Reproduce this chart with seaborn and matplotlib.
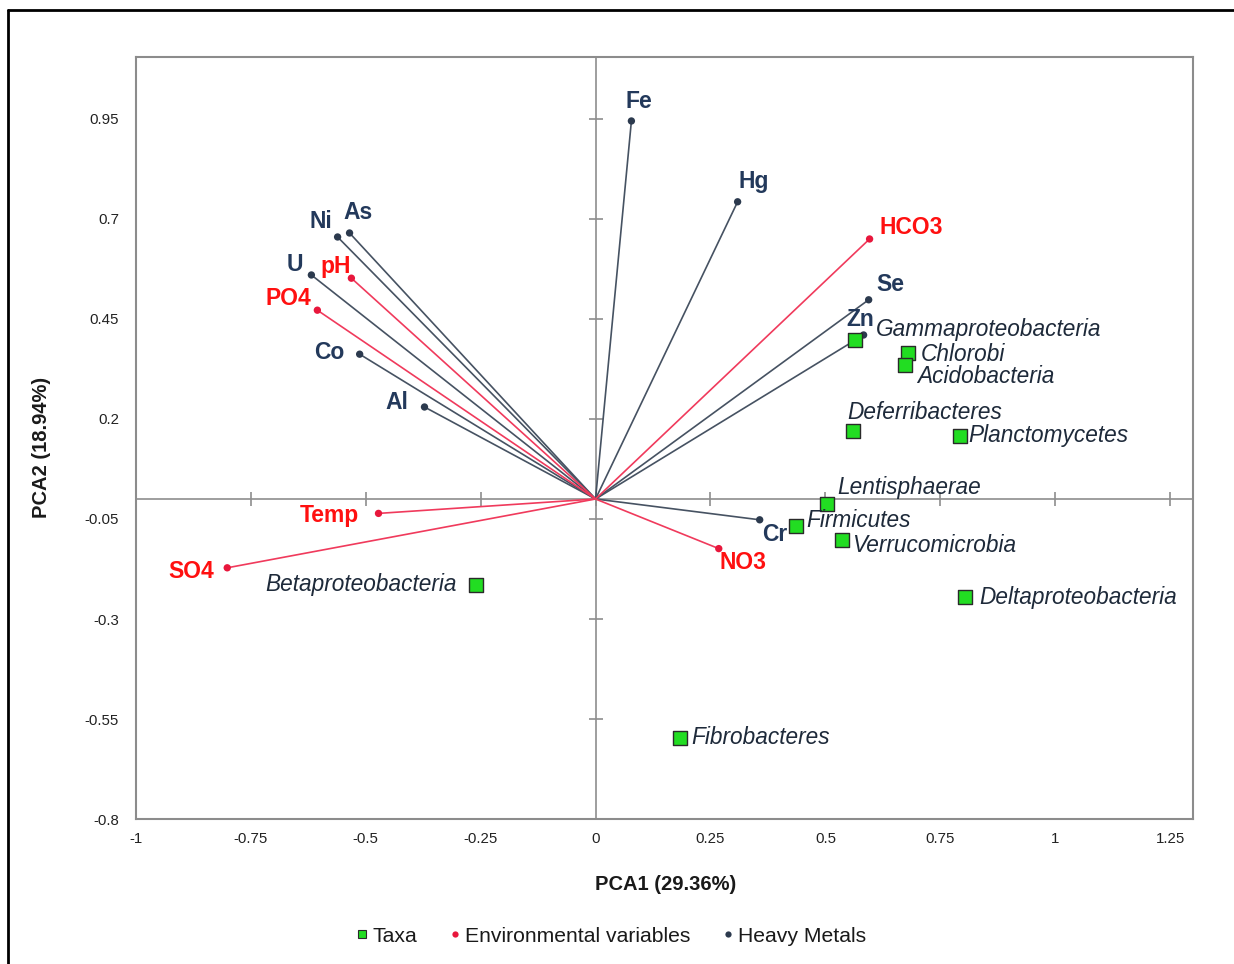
import matplotlib
matplotlib.use("Agg")
import matplotlib.pyplot as plt
import seaborn as sns
import pandas as pd
from matplotlib.lines import Line2D

# ---------------- data ----------------
taxa_names = ["Gammaproteobacteria", "Chlorobi", "Acidobacteria", "Deferribacteres",
              "Planctomycetes", "Lentisphaerae", "Firmicutes", "Verrucomicrobia",
              "Deltaproteobacteria", "Fibrobacteres", "Betaproteobacteria"]
taxa_x = [0.564, 0.679, 0.672, 0.561, 0.792, 0.503, 0.437, 0.535, 0.803, 0.183, -0.261]
taxa_y = [0.398, 0.365, 0.335, 0.170, 0.158, -0.012, -0.068, -0.102, -0.245, -0.598, -0.214]

env_names = ["HCO3", "pH", "PO4", "Temp", "SO4", "NO3"]
env_x = [0.596, -0.531, -0.605, -0.472, -0.801, 0.268]
env_y = [0.650, 0.552, 0.472, -0.036, -0.172, -0.124]

metal_names = ["Fe", "Hg", "Se", "Zn", "Cr", "Al", "Co", "U", "Ni", "As"]
metal_x = [0.078, 0.309, 0.594, 0.583, 0.357, -0.372, -0.513, -0.618, -0.561, -0.535]
metal_y = [0.945, 0.743, 0.498, 0.410, -0.052, 0.230, 0.362, 0.560, 0.655, 0.665]

x_ticks = [-1, -0.75, -0.5, -0.25, 0, 0.25, 0.5, 0.75, 1, 1.25]
y_ticks = [-0.8, -0.55, -0.3, -0.05, 0.2, 0.45, 0.7, 0.95]
x_label = "PCA1 (29.36%)"
y_label = "PCA2 (18.94%)"
legend_labels = ["Taxa", "Environmental variables", "Heavy Metals"]

# ---------------- layout (label offsets in pixels) ----------------
env_offsets = {"HCO3": (10, 11, "left"), "pH": (-16, 12, "center"), "PO4": (-29, 12, "center"),
               "Temp": (-49, -2, "center"), "SO4": (-36, -4, "center"), "NO3": (24, -14, "center")}
metal_offsets = {"Fe": (7, 19), "Hg": (16, 20), "Se": (22, 15), "Zn": (-3, 15), "Cr": (15, -15),
                 "Al": (-28, 4), "Co": (-30, 2), "U": (-17, 10), "Ni": (-17, 15), "As": (9, 20)}
taxa_offsets = {"Gammaproteobacteria": (21, 10, "left"), "Chlorobi": (13, -2, "left"),
                "Acidobacteria": (13, -12, "left"), "Deferribacteres": (-6, 18, "left"),
                "Planctomycetes": (9, 0, "left"), "Lentisphaerae": (10, 16, "left"),
                "Firmicutes": (10, 6, "left"), "Verrucomicrobia": (11, -6, "left"),
                "Deltaproteobacteria": (15, 0, "left"), "Fibrobacteres": (12, 1, "left"),
                "Betaproteobacteria": (-19, 0, "right")}

sns.set_theme(style="white")
plt.rcParams["font.family"] = ["Liberation Sans", "DejaVu Sans"]

RED_LINE = "#F03A5C"
RED_PT = "#E8173C"
RED_TXT = "#FF1010"
MET_LINE = "#465262"
MET_PT = "#2C3A4E"
MET_TXT = "#23395B"
GREEN = "#22DD22"

fig = plt.figure(figsize=(12.34, 9.64), dpi=100)
ax = fig.add_axes([0.110, 0.1504, 0.857, 0.7905])
ax.set_xlim(-1.0, 1.30)
ax.set_ylim(-0.8, 1.105)

# centre axes
ax.axhline(0, color="#8E8E8E", lw=1.2, zorder=1)
ax.axvline(0, color="#8E8E8E", lw=1.2, zorder=1)
ax.plot(x_ticks, [0] * len(x_ticks), ls="none", marker="|", ms=10, mew=1.2, color="#8E8E8E", zorder=1)
ax.plot([0] * len(y_ticks), y_ticks, ls="none", marker="_", ms=10, mew=1.2, color="#8E8E8E", zorder=1)

# vectors
for x, y in zip(metal_x, metal_y):
    ax.plot([0, x], [0, y], color=MET_LINE, lw=1.2, zorder=2)
for x, y in zip(env_x, env_y):
    ax.plot([0, x], [0, y], color=RED_LINE, lw=1.2, zorder=2)

df_m = pd.DataFrame({"x": metal_x, "y": metal_y, "name": metal_names})
df_e = pd.DataFrame({"x": env_x, "y": env_y, "name": env_names})
df_t = pd.DataFrame({"x": taxa_x, "y": taxa_y, "name": taxa_names})

sns.scatterplot(data=df_m, x="x", y="y", ax=ax, color=MET_PT, s=28, edgecolor="none", zorder=3, legend=False)
sns.scatterplot(data=df_e, x="x", y="y", ax=ax, color=RED_PT, s=28, edgecolor="none", zorder=3, legend=False)
sns.scatterplot(data=df_t, x="x", y="y", ax=ax, color=GREEN, marker="s", s=90,
                edgecolor="#2A2A2A", linewidth=1.0, zorder=4, legend=False)

for n, x, y in zip(metal_names, metal_x, metal_y):
    dx, dy = metal_offsets[n]
    ax.annotate(n, (x, y), xytext=(dx, dy), textcoords="offset pixels", ha="center", va="center",
                fontsize=16.5, fontweight="bold", color=MET_TXT, zorder=5)
for n, x, y in zip(env_names, env_x, env_y):
    dx, dy, ha = env_offsets[n]
    ax.annotate(n, (x, y), xytext=(dx, dy), textcoords="offset pixels", ha=ha, va="center",
                fontsize=16.5, fontweight="bold", color=RED_TXT, zorder=5)
for n, x, y in zip(taxa_names, taxa_x, taxa_y):
    dx, dy, ha = taxa_offsets[n]
    ax.annotate(n, (x, y), xytext=(dx, dy), textcoords="offset pixels", ha=ha, va="center",
                fontsize=16.3, fontstyle="italic", color="#1E2A3A", zorder=5)

# frame & ticks
for s in ax.spines.values():
    s.set_visible(True)
    s.set_color("#8C8C8C")
    s.set_linewidth(1.5)
ax.set_xticks(x_ticks)
ax.set_yticks(y_ticks)
ax.set_xticklabels([f"{t:g}" for t in x_ticks])
ax.set_yticklabels([f"{t:g}" for t in y_ticks])
ax.tick_params(axis="x", length=0, pad=9, labelsize=10.8, labelcolor="#222222")
ax.tick_params(axis="y", length=0, pad=12, labelsize=10.8, labelcolor="#222222")

ax.set_xlabel(x_label, fontsize=14.5, fontweight="bold", color="#1A1A1A")
ax.set_ylabel(y_label, fontsize=14.5, fontweight="bold", color="#1A1A1A")
ax.xaxis.set_label_coords(0.501, -0.074)
ax.yaxis.set_label_coords(-0.080, 0.487)

handles = [
    Line2D([], [], ls="none", marker="s", ms=6, mfc=GREEN, mec="#2A2A2A", mew=0.8),
    Line2D([], [], ls="none", marker="o", ms=4.5, mfc=RED_PT, mec="none"),
    Line2D([], [], ls="none", marker="o", ms=4.5, mfc=MET_PT, mec="none"),
]
fig.legend(handles, legend_labels, loc="center", bbox_to_anchor=(0.494, 0.029), ncol=3,
           frameon=False, fontsize=15.2, handletextpad=0.05, columnspacing=1.3, handlelength=0.9,
           labelcolor="#1A1A1A")

# outer border (left/top)
fig.add_artist(Line2D([0.0065, 0.0065], [0.0, 0.9896], transform=fig.transFigure, color="black", lw=2))
fig.add_artist(Line2D([0.0065, 1.0], [0.9896, 0.9896], transform=fig.transFigure, color="black", lw=2))

fig.savefig("out.png", dpi=100)
